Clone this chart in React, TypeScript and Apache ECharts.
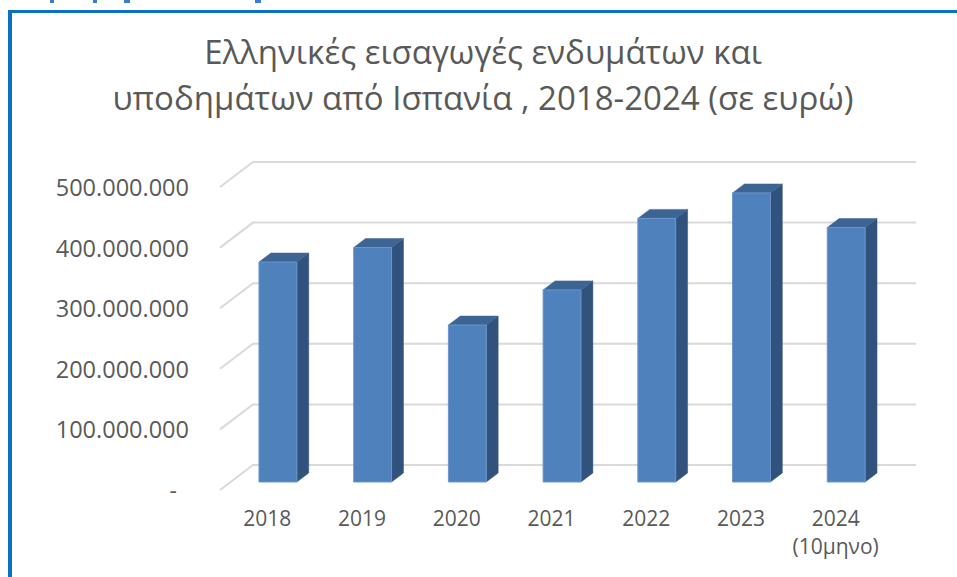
import React, { useEffect, useRef } from "react";
import * as echarts from "echarts";

const categories = ["2018", "2019", "2020", "2021", "2022", "2023", "2024\n(10μηνο)"];
const importValues = [363000000, 387000000, 259000000, 317000000, 435000000, 477000000, 420000000];
const yTicks = [0, 100000000, 200000000, 300000000, 400000000, 500000000];
const titleLines = [
  "Ελληνικές εισαγωγές ενδυμάτων και",
  "υποδημάτων από Ισπανία , 2018-2024 (σε ευρώ)",
];

const DEPTH_X = 33;
const DEPTH_Y = 25;
const BAR_FRONT = 0.32;
const BAR_DEPTH = 0.36;

function fmt(v: number): string {
  if (v === 0) return "{d|-}";
  return String(v).replace(/\B(?=(\d{3})+(?!\d))/g, ".");
}

export default function App() {
  const ref = useRef<HTMLDivElement>(null);
  useEffect(() => {
    if (!ref.current) return;
    const chart = echarts.init(ref.current, undefined, { renderer: "svg" });
    const font = "'Open Sans', 'Noto Sans', sans-serif";
    const nCat = categories.length;
    chart.setOption({
      animation: false,
      backgroundColor: "#ffffff",
      title: {
        text: titleLines.join("\n"),
        left: 478,
        textAlign: "center",
        top: 23,
        textStyle: {
          fontFamily: font,
          fontSize: 33,
          fontWeight: "normal",
          color: "#595959",
          lineHeight: 46,
        },
      },
      grid: { left: 220, right: 74, top: 187, bottom: 87, containLabel: false },
      xAxis: {
        type: "category",
        data: categories,
        axisLine: { show: false },
        axisTick: { show: false },
        splitLine: { show: false },
        axisLabel: {
          fontFamily: font,
          fontSize: 21,
          color: "#595959",
          margin: 14,
          lineHeight: 28,
          interval: 0,
        },
      },
      yAxis: {
        type: "value",
        min: 0,
        max: 500000000,
        interval: 100000000,
        axisLine: { show: false },
        axisTick: { show: false },
        splitLine: { show: false },
        axisLabel: {
          fontFamily: font,
          fontSize: 23.5,
          color: "#595959",
          margin: 31,
          formatter: fmt,
          rich: { d: { fontFamily: font, fontSize: 23, color: "#595959", padding: [0, 12, 0, 0] } },
        },
      },
      graphic: [
        { type: "rect", shape: { x: 8, y: 10, width: 949, height: 3 }, style: { fill: "#0a70c4" }, z: 100 },
        { type: "rect", shape: { x: 8, y: 10, width: 4, height: 567 }, style: { fill: "#0a70c4" }, z: 100 },
        { type: "rect", shape: { x: 50, y: 0, width: 4, height: 3 }, style: { fill: "#3a7cd0" } },
        { type: "rect", shape: { x: 93, y: 0, width: 4, height: 3 }, style: { fill: "#3a7cd0" } },
        { type: "rect", shape: { x: 124, y: 0, width: 6, height: 3 }, style: { fill: "#3a7cd0" } },
        { type: "rect", shape: { x: 255, y: 0, width: 6, height: 3 }, style: { fill: "#3a7cd0" } },
      ],
      series: [
        {
          type: "custom",
          z: 1,
          silent: true,
          data: yTicks.map((v) => [0, v]),
          renderItem: (params: any, api: any) => {
            const p = api.coord([0, api.value(1)]);
            const band = api.size([1, 0])[0];
            const xl = p[0] - band / 2;
            const xr = xl + band * nCat;
            const y = p[1];
            return {
              type: "polyline",
              shape: {
                points: [
                  [xl, y],
                  [xl + DEPTH_X, y - DEPTH_Y],
                  [xr + DEPTH_X, y - DEPTH_Y],
                ],
              },
              style: { stroke: "#d9d9d9", lineWidth: 2, fill: "none" },
            };
          },
        },
        {
          type: "custom",
          z: 2,
          data: importValues.map((v, i) => [i, v]),
          renderItem: (params: any, api: any) => {
            const idx = api.value(0);
            const top = api.coord([idx, api.value(1)]);
            const base = api.coord([idx, 0]);
            const band = api.size([1, 0])[0];
            const w = band * 0.4;
            const fx = DEPTH_X * BAR_FRONT;
            const fy = DEPTH_Y * BAR_FRONT;
            const dx = DEPTH_X * BAR_DEPTH;
            const dy = DEPTH_Y * BAR_DEPTH;
            const xl = top[0] + fx - w / 2;
            const xr = xl + w;
            const yt = top[1] - fy;
            const yb = base[1] - fy;
            return {
              type: "group",
              children: [
                {
                  type: "polygon",
                  shape: { points: [[xr, yt], [xr + dx, yt - dy], [xr + dx, yb - dy], [xr, yb]] },
                  style: { fill: "#31527c", stroke: "#31527c", lineWidth: 0.5 },
                },
                {
                  type: "polygon",
                  shape: { points: [[xl, yt], [xr, yt], [xr + dx, yt - dy], [xl + dx, yt - dy]] },
                  style: { fill: "#3d6594", stroke: "#3d6594", lineWidth: 0.5 },
                },
                {
                  type: "rect",
                  shape: { x: xl, y: yt, width: w, height: yb - yt },
                  style: { fill: "#4f81bd", stroke: "#6a95cb", lineWidth: 1 },
                },
              ],
            };
          },
        },
      ],
    });
    return () => chart.dispose();
  }, []);
  return (
    <div
      ref={ref}
      style={{ position: "fixed", left: 0, top: 0, width: 957, height: 577 }}
    />
  );
}
